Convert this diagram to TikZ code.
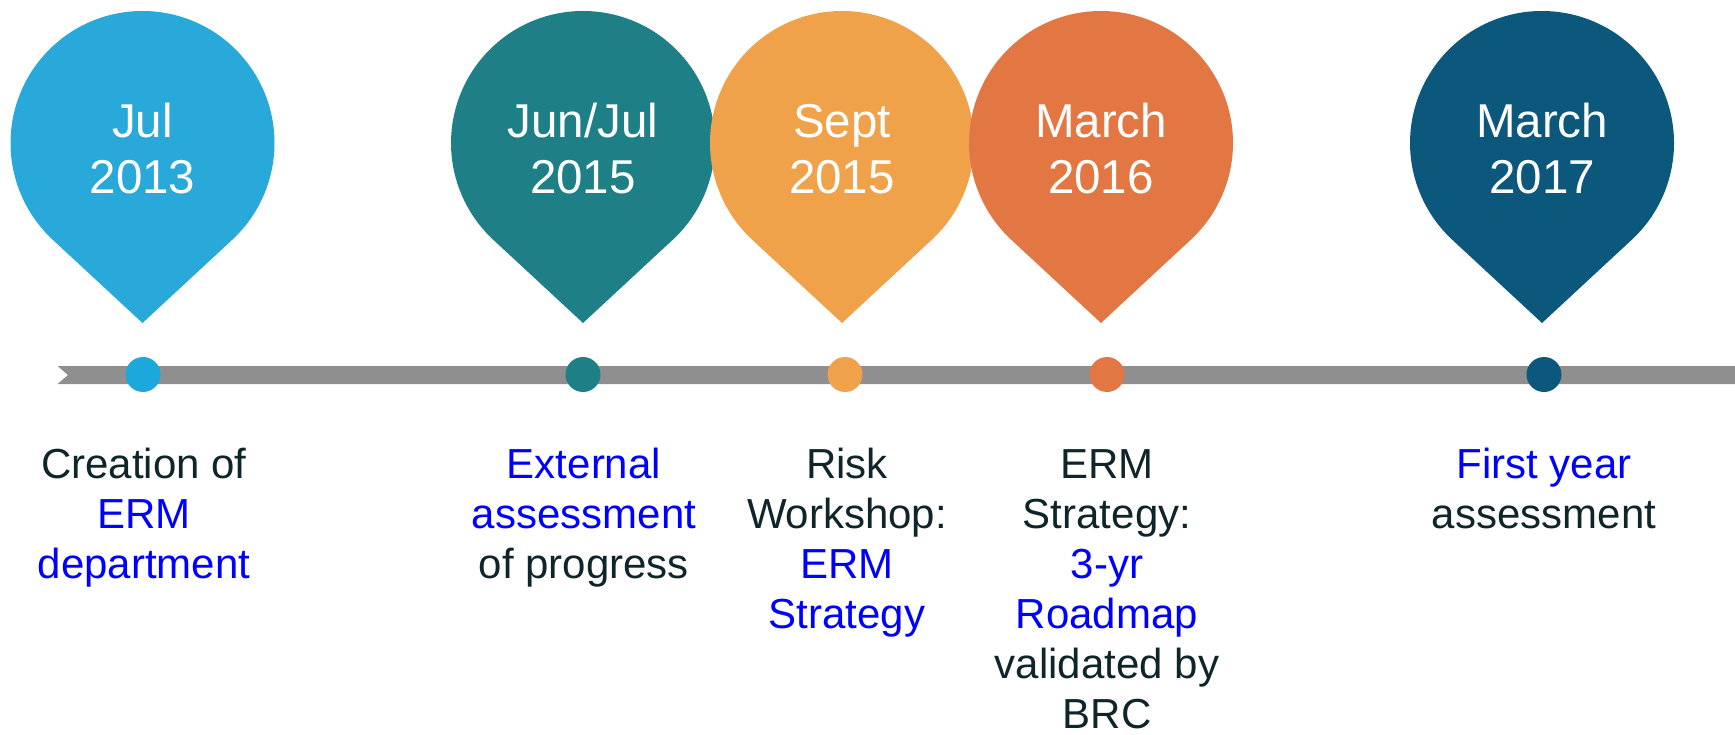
\documentclass[tikz,border=0pt]{standalone}
\usepackage{fontspec}
\setmainfont{Liberation Sans}
\usetikzlibrary{calc}

\definecolor{pinA}{HTML}{29A9D9}
\definecolor{dotA}{HTML}{1DA8DC}
\definecolor{pinB}{HTML}{1F7F86}
\definecolor{pinC}{HTML}{F0A24A}
\definecolor{pinD}{HTML}{E37744}
\definecolor{pinE}{HTML}{0B587C}
\definecolor{barGray}{HTML}{8F8F8F}
\definecolor{ink}{HTML}{0F2529}
\definecolor{linkblue}{HTML}{0000FF}

% invisible rules fixing the height of the first text line
\newcommand{\pinstrut}{\rule{0pt}{45pt}}
\newcommand{\capstrut}{\rule{0pt}{40pt}}

\begin{document}
\begin{tikzpicture}[x=1pt,y=1pt,
  pintext/.style={text=white, align=center, inner sep=0pt, anchor=north,
    font=\fontsize{47.5}{56}\selectfont},
  caption/.style={text=ink, align=center, inner sep=0pt, anchor=north,
    font=\fontsize{42}{50}\selectfont},
  dotmark/.style={circle, minimum size=35pt, inner sep=0pt}]

\useasboundingbox (0,0) rectangle (1735,-735);

% timeline bar with notched left end
\fill[barGray] (57.5,-366) -- (1735,-366) -- (1735,-384) -- (57.5,-384) -- (68,-375) -- cycle;

% map pin: circle of radius 132 with tangents meeting at the tip
\newcommand{\mappin}[3]{%
  \coordinate (#1c) at (#2,-143);
  \coordinate (#1tip) at (#2,-323);
  \fill[#3] ($(#1c)+(-47.17:132)$) arc[start angle=-47.17, end angle=227.17, radius=132]
    -- (#1tip) -- cycle;
}

% first baselines: dates at y=137, descriptions at y=478
\mappin{p1}{142.5}{pinA}
\node[pintext] (d1) at (142.5,-92) {\pinstrut Jul\\2013};
\mappin{p2}{583}{pinB}
\node[pintext] (d2) at (583,-92) {\pinstrut Jun/Jul\\2015};
\mappin{p3}{842}{pinC}
\node[pintext] (d3) at (842,-92) {\pinstrut Sept\\2015};
\mappin{p4}{1101}{pinD}
\node[pintext] (d4) at (1101,-92) {\pinstrut March\\2016};
\mappin{p5}{1542}{pinE}
\node[pintext] (d5) at (1542,-92) {\pinstrut March\\2017};

% markers on the timeline
\node[dotmark, fill=dotA] (m1) at (143,-374.5) {};
\node[dotmark, fill=pinB] (m2) at (583,-374.5) {};
\node[dotmark, fill=pinC] (m3) at (845,-374.5) {};
\node[dotmark, fill=pinD] (m4) at (1107,-374.5) {};
\node[dotmark, fill=pinE] (m5) at (1544,-374.5) {};

% event descriptions
\node[caption] (e1) at (144,-438) {\capstrut Creation of\\\textcolor{linkblue}{ERM}\\\textcolor{linkblue}{department}};
\node[caption] (e2) at (584,-438) {\capstrut\textcolor{linkblue}{External}\\\textcolor{linkblue}{assessment}\\of progress};
\node[caption] (e3) at (847,-438) {\capstrut Risk\\Workshop:\\\textcolor{linkblue}{ERM}\\\textcolor{linkblue}{Strategy}};
\node[caption] (e4) at (1107,-438) {\capstrut ERM\\Strategy:\\\textcolor{linkblue}{3-yr}\\\textcolor{linkblue}{Roadmap}\\validated by\\BRC};
\node[caption] (e5) at (1544,-438) {\capstrut\textcolor{linkblue}{First year}\\assessment};
\end{tikzpicture}
\end{document}
